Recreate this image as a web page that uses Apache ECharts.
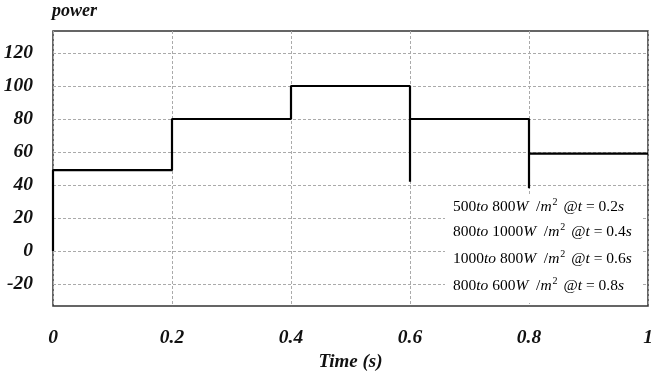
<!DOCTYPE html>
<html>
<head>
<meta charset="utf-8">
<script src="https://cdn.jsdelivr.net/npm/echarts@6/dist/echarts.min.js"></script>
<style>
html,body{margin:0;padding:0;background:#fff;}
#chart{width:669px;height:377px;}
</style>
</head>
<body>
<div id="chart"></div>
<script>
// Data (step response of power)
var time  = [0, 0,  0.2, 0.2, 0.4, 0.4, 0.6, 0.6, 0.6, 0.8, 0.8, 0.8, 1.0];
var power = [0, 49, 49,  80,  80,  100, 100, 42,  80,  80,  38,  59,  59];
var xTicks = [0, 0.2, 0.4, 0.6, 0.8, 1];
var yTicks = [-20, 0, 20, 40, 60, 80, 100, 120];
var noteFrom = ['500', '800', '1000', '800'];
var noteTo   = ['800', '1000', '800', '600'];
var noteT    = ['0.2', '0.4', '0.6', '0.8'];

var serif = '"Liberation Serif", "DejaVu Serif", serif';
var chart = echarts.init(document.getElementById('chart'), null, {renderer: 'canvas'});

var linePts = time.map(function (t, i) { return [t, power[i]]; });

var gridL = 53, gridT = 31, gridR = 21, gridB = 65;

var notes = [];
var noteY = [207, 232, 259, 286];
for (var k = 0; k < noteFrom.length; k++) {
  notes.push({
    type: 'text',
    x: 453, y: noteY[k],
    z: 101,
    style: {
      text: '{n|' + noteFrom[k] + '}{i|to}{n| ' + noteTo[k] + '}{i|W}{n|  /}{i|m}{s|2}{n| @}{i|t}{n| = ' + noteT[k] + '}{i|s}',
      verticalAlign: 'middle',
      rich: {
        n: {fontFamily: serif, fontSize: 15.5, color: '#222'},
        i: {fontFamily: serif, fontSize: 15.5, fontStyle: 'italic', color: '#222'},
        s: {fontFamily: serif, fontSize: 10, color: '#222', padding: [0, 2, 9, 1]}
      }
    }
  });
}

var option = {
  animation: false,
  backgroundColor: '#fff',
  grid: {
    left: gridL, top: gridT, right: gridR, bottom: gridB,
    show: true, borderColor: '#333', borderWidth: 1.5, backgroundColor: 'transparent'
  },
  xAxis: {
    type: 'value',
    min: xTicks[0], max: xTicks[xTicks.length - 1], interval: 0.2,
    name: 'Time (s)',
    nameLocation: 'middle',
    nameGap: 43,
    nameTextStyle: {fontFamily: serif, fontSize: 19, fontWeight: 'bold', fontStyle: 'italic', color: '#111'},
    axisLine: {show: false},
    axisTick: {show: false},
    axisLabel: {
      margin: 22,
      fontFamily: serif, fontSize: 19.5, fontWeight: 'bold', fontStyle: 'italic', color: '#111',
      formatter: function (v) { return String(Math.round(v * 10) / 10); }
    },
    splitLine: {show: true, lineStyle: {color: '#aaa', type: [3, 2], width: 1}}
  },
  yAxis: {
    type: 'value',
    min: -33.3, max: 133.3,
    axisLine: {show: false},
    axisTick: {show: false, customValues: yTicks},
    axisLabel: {
      margin: 20,
      customValues: yTicks,
      fontFamily: serif, fontSize: 19.5, fontWeight: 'bold', fontStyle: 'italic', color: '#111'
    },
    splitLine: {show: false}
  },
  graphic: [
    {
      type: 'text', left: 52, top: 2,
      style: {text: 'power', fontFamily: serif, fontSize: 18, fontWeight: 'bold', fontStyle: 'italic', fill: '#111'}
    },
    {
      type: 'rect', z: 100,
      shape: {x: 445, y: 195, width: 196, height: 108},
      style: {fill: '#fff'}
    }
  ].concat(notes),
  series: [{
    type: 'line',
    data: linePts,
    showSymbol: false,
    z: 5,
    lineStyle: {color: '#000', width: 2.2},
    clip: false,
    markLine: {
      silent: true,
      symbol: ['none', 'none'],
      label: {show: false},
      z: 1,
      lineStyle: {color: '#aaa', type: [3, 2], width: 1},
      data: yTicks.map(function (v) { return {yAxis: v}; })
    }
  }]
};
chart.setOption(option);
</script>
</body>
</html>
